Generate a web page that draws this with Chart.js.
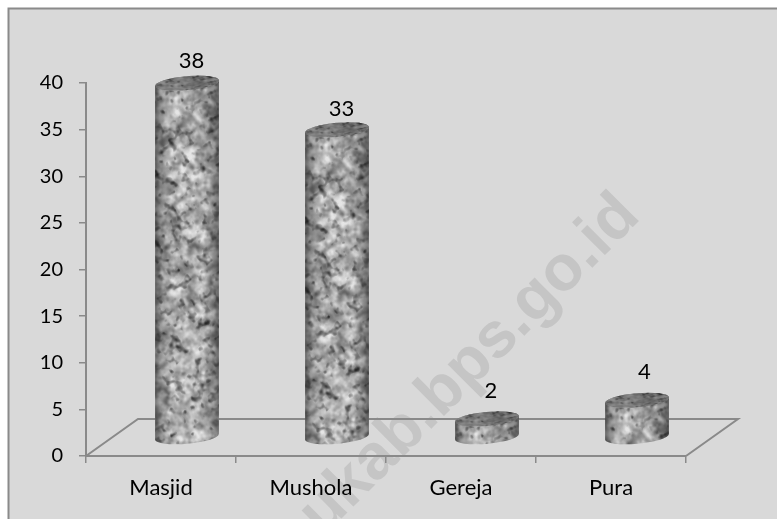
<!DOCTYPE html>
<html>
<head>
<meta charset="utf-8">
<style>html,body{margin:0;padding:0;background:#fff}canvas{display:block}</style>
<script src="https://cdn.jsdelivr.net/npm/chart.js@4/dist/chart.umd.min.js"></script>
</head>
<body>
<canvas id="c" width="777" height="519"></canvas>
<script>
const categories = ['Masjid', 'Mushola', 'Gereja', 'Pura'];
const values = [38, 33, 2, 4];
const yTicks = [0, 5, 10, 15, 20, 25, 30, 35, 40];
const watermarkText = 'ukab.bps.go.id';

const DEPTH_X = 52, DEPTH_Y = 37;      // floor depth of the 3D look
const RX_TILT = -0.09, RY = 7;
const labelNudgeX = [4.5, 4.5, 4, 7.5];
const labelNudgeY = [-22.5, -21, -28, -28];

function makeTexture(w, h) {
  let s = 12345;
  const rnd = () => {
    s = (s + 0x6D2B79F5) | 0;
    let t = Math.imul(s ^ (s >>> 15), 1 | s);
    t = (t + Math.imul(t ^ (t >>> 7), 61 | t)) ^ t;
    return ((t ^ (t >>> 14)) >>> 0) / 4294967296;
  };
  const sm = t => t * t * (3 - 2 * t);
  const layer = (cell, amp, angle, out) => {
    const n = 256, g = new Float32Array(n * n);
    for (let i = 0; i < n * n; i++) g[i] = rnd();
    const ca = Math.cos(angle), sa = Math.sin(angle);
    for (let y = 0; y < h; y++) for (let x = 0; x < w; x++) {
      const fx = (x * ca - y * sa) / cell + 1000, fy = (x * sa + y * ca) / cell + 1000;
      const x0 = Math.floor(fx), y0 = Math.floor(fy), tx = sm(fx - x0), ty = sm(fy - y0);
      const ix = x0 % n, iy = y0 % n, jx = (ix + 1) % n, jy = (iy + 1) % n;
      const v = (g[iy * n + ix] * (1 - tx) + g[iy * n + jx] * tx) * (1 - ty) + (g[jy * n + ix] * (1 - tx) + g[jy * n + jx] * tx) * ty;
      out[y * w + x] += amp * (v - 0.5);
    }
  };
  const f = new Float32Array(w * h), d = new Float32Array(w * h);
  layer(16, 0.3, 0.4, f); layer(7.5, 0.7, 1.1, f); layer(4, 0.7, 0.7, f); layer(2.2, 0.2, 0.2, f);
  layer(4.6, 1, 0.55, d); layer(2.8, 0.4, 1.25, d);
  const cv = document.createElement('canvas');
  cv.width = w; cv.height = h;
  const x = cv.getContext('2d'), im = x.createImageData(w, h);
  for (let i = 0; i < f.length; i++) {
    const v = Math.max(40, Math.min(240, 180 + f[i] * 115 - 230 * Math.max(0, d[i] - 0.16)));
    im.data[i * 4] = im.data[i * 4 + 1] = im.data[i * 4 + 2] = v;
    im.data[i * 4 + 3] = 255;
  }
  x.putImageData(im, 0, 0);
  return cv;
}
const texture = makeTexture(128, 512);

const scenePlugin = {
  id: 'scene',
  beforeDraw(chart) {
    const { ctx } = chart;
    ctx.save();
    ctx.fillStyle = '#d9d9d9';
    ctx.fillRect(8, 8, chart.width, chart.height);
    ctx.strokeStyle = '#8a8a8a';
    ctx.lineWidth = 2;
    ctx.beginPath();
    ctx.moveTo(8.5, chart.height); ctx.lineTo(8.5, 8.5); ctx.lineTo(chart.width, 8.5);
    ctx.stroke();
    ctx.translate(642, 218);
    ctx.rotate(-Math.PI / 4);
    ctx.font = 'bold 64px "Liberation Sans"';
    ctx.textAlign = 'right';
    ctx.textBaseline = 'alphabetic';
    ctx.fillStyle = '#c5c5c5';
    ctx.fillText(watermarkText, 0, 0);
    ctx.restore();
  },
  beforeDatasetsDraw(chart) {
    const { ctx, chartArea: a } = chart;
    ctx.save();
    ctx.strokeStyle = '#8a8a8a';
    ctx.lineWidth = 2;
    ctx.beginPath();
    ctx.moveTo(a.left, a.bottom);
    ctx.lineTo(a.left + DEPTH_X, a.bottom - DEPTH_Y);
    ctx.lineTo(a.right + DEPTH_X, a.bottom - DEPTH_Y);
    ctx.lineTo(a.right, a.bottom);
    ctx.stroke();
    ctx.restore();
  },
  afterDatasetsDraw(chart) {
    const { ctx } = chart;
    const pattern = ctx.createPattern(texture, 'repeat');
    chart.getDatasetMeta(0).data.forEach((el, i) => {
      const p = el.getProps(['x', 'y', 'base', 'width'], true);
      const cx = p.x + DEPTH_X / 2, ty = p.y - DEPTH_Y / 2, by = p.base - DEPTH_Y / 2, rx = p.width / 2;
      const left = cx - rx;
      // side
      ctx.save();
      ctx.beginPath();
      ctx.ellipse(cx, by, rx, RY, RX_TILT, 0, Math.PI);
      ctx.ellipse(cx, ty, rx, RY, RX_TILT, Math.PI, Math.PI * 2);
      ctx.closePath();
      ctx.clip();
      ctx.save();
      ctx.translate(left, ty - 10);
      ctx.fillStyle = pattern;
      ctx.fillRect(0, 0, p.width, by - ty + 30);
      ctx.restore();
      const g = ctx.createLinearGradient(left, 0, left + p.width, 0);
      g.addColorStop(0, 'rgba(30,30,30,0.6)');
      g.addColorStop(0.08, 'rgba(30,30,30,0.35)');
      g.addColorStop(0.25, 'rgba(30,30,30,0.05)');
      g.addColorStop(0.75, 'rgba(30,30,30,0.05)');
      g.addColorStop(0.92, 'rgba(30,30,30,0.35)');
      g.addColorStop(1, 'rgba(30,30,30,0.6)');
      ctx.fillStyle = g;
      ctx.fillRect(left - 2, ty - 20, p.width + 4, by - ty + 40);
      ctx.restore();
      // cap
      ctx.save();
      ctx.beginPath();
      ctx.ellipse(cx, ty, rx, RY, RX_TILT, 0, Math.PI * 2);
      ctx.clip();
      ctx.translate(left, ty - RY - 4);
      ctx.scale(1, 0.5);
      ctx.fillStyle = pattern;
      ctx.fillRect(0, 0, p.width, 70);
      ctx.setTransform(1, 0, 0, 1, 0, 0);
      ctx.fillStyle = 'rgba(60,60,60,0.5)';
      ctx.fillRect(left, ty - 20, p.width, 40);
      ctx.restore();
      // value label
      ctx.save();
      ctx.fillStyle = '#000';
      ctx.font = '22px Lato';
      ctx.textAlign = 'center';
      ctx.textBaseline = 'middle';
      ctx.fillText(String(values[i]), cx + labelNudgeX[i], ty + labelNudgeY[i]);
      ctx.restore();
    });
  }
};

new Chart(document.getElementById('c'), {
  type: 'bar',
  data: {
    labels: categories,
    datasets: [{ data: values, backgroundColor: 'rgba(0,0,0,0)', borderWidth: 0, categoryPercentage: 1, barPercentage: 64 / 150 }]
  },
  plugins: [scenePlugin],
  options: {
    responsive: false,
    animation: false,
    layout: { padding: { top: 83, right: 91, left: 0, bottom: 0 } },
    plugins: { legend: { display: false }, tooltip: { enabled: false }, title: { display: false } },
    scales: {
      x: {
        afterFit(s) { s.height = 63; },
        border: { color: '#8a8a8a', width: 2 },
        grid: { drawOnChartArea: false, color: '#8a8a8a', tickLength: 7, lineWidth: 1.5 },
        ticks: { color: '#000', font: { family: 'Lato', size: 22 }, padding: 12, maxRotation: 0 }
      },
      y: {
        min: 0, max: 40,
        afterFit(s) { s.width = 86; },
        afterBuildTicks(s) { s.ticks = yTicks.map(v => ({ value: v })); },
        border: { color: '#8a8a8a', width: 2 },
        grid: { drawOnChartArea: false, color: '#8a8a8a', tickLength: 7, lineWidth: 1.5 },
        ticks: { color: '#000', font: { family: 'Lato', size: 20 }, padding: 16 }
      }
    }
  }
});
</script>
</body>
</html>
